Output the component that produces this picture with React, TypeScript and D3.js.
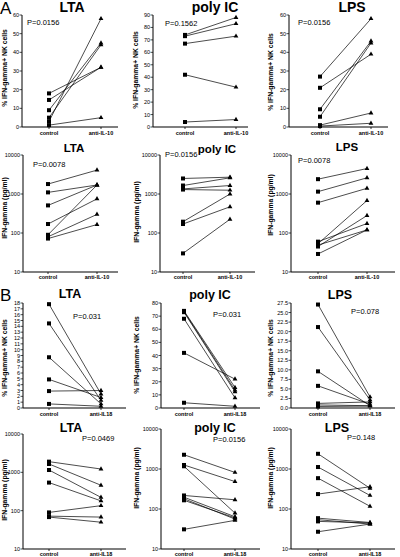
import React from "react";
import * as d3 from "d3";

// ---------- DATA ----------
// Row A1: % IFN-gamma+ NK cells, control vs anti-IL-10
const a1LtaControl = [18, 14.5, 9, 5, 3, 1];
const a1LtaAnti = [32, 32, 45, 44, 58, 5];
const a1PolyControl = [74, 73, 67, 42, 4];
const a1PolyAnti = [88, 83, 73, 32, 6];
const a1LpsControl = [27, 21, 9.5, 5.5, 1, 0.5];
const a1LpsAnti = [58, 39, 46, 45, 7.5, 2];
// Row A2: IFN-gamma pg/ml, control vs anti-IL-10
const a2LtaControl = [1800, 1100, 510, 170, 90, 80, 72];
const a2LtaAnti = [4100, 1700, 1700, 750, 1700, 300, 165];
const a2PolyControl = [2500, 1650, 1350, 1300, 195, 170, 30];
const a2PolyAnti = [2700, 2600, 1650, 1250, 1000, 470, 225];
const a2LpsControl = [2400, 1150, 600, 60, 53, 49, 45, 29];
const a2LpsAnti = [4500, 2600, 1400, 175, 680, 120, 280, 120];
// Row B1: % IFN-gamma+ NK cells, control vs anti-IL18
const b1LtaControl = [17.8, 14.5, 8.7, 4.9, 2.9, 0.7];
const b1LtaAnti = [2.4, 1.3, 0.7, 1.8, 3.0, 0.3];
const b1PolyControl = [74, 73.5, 73, 68, 42, 4];
const b1PolyAnti = [15.6, 13.6, 12.3, 7.7, 22, 1.3];
const b1LpsControl = [27.1, 21.2, 9.6, 5.8, 1.2, 0.8, 0.4];
const b1LpsAnti = [2.9, 2.1, 0.6, 1.0, 1.6, 0.6, 0.5];
// Row B2: IFN-gamma pg/ml, control vs anti-IL18
const b2LtaControl = [1900, 1650, 1150, 540, 90, 72, 68];
const b2LtaAnti = [1220, 460, 222, 180, 135, 68, 50];
const b2PolyControl = [2270, 1260, 1170, 218, 197, 180, 165, 31];
const b2PolyAnti = [820, 485, 79, 170, 64, 56, 60, 52];
const b2LpsControl = [2400, 1120, 590, 236, 59, 54, 49, 27];
const b2LpsAnti = [330, 218, 117, 360, 46, 42, 45, 42];

// ticks
const ticks60 = [0, 10, 20, 30, 40, 50, 60];
const ticks90 = [0, 10, 20, 30, 40, 50, 60, 70, 80, 90];
const ticks18 = d3.range(0, 19, 1);
const ticks80 = [0, 10, 20, 30, 40, 50, 60, 70, 80];
const ticks275 = [0, 2.5, 5, 7.5, 10, 12.5, 15, 17.5, 20, 22.5, 25, 27.5];
const ticksLog = [10, 100, 1000, 10000];

const titles = ["LTA", "poly IC", "LPS"];
const xLabelsA = ["control", "anti-IL-10"];
const xLabelsB = ["control", "anti-IL18"];
const pA1 = ["P=0.0156", "P=0.1562", "P=0.0156"];
const pA2 = ["P=0.0078", "P=0.0156", "P=0.0078"];
const pB1 = ["P=0.031", "P=0.031", "P=0.078"];
const pB2 = ["P=0.0469", "P=0.0156", "P=0.148"];
const yLabelPct = "% IFN-gamma+ NK cells";
const yLabelConc = "IFN-gamma (pg/ml)";

const FONT = "'Liberation Sans', Arial, sans-serif";

type PanelCfg = {
  axisX: number; ctrlX: number; antiX: number; endX: number;
  top: number; bottom: number;
  log: boolean; domain: [number, number]; ticks: number[]; fmt: (v: number) => string;
  control: number[]; anti: number[];
  title: string; titleX: number; titleY: number; titleSize: number;
  p: string; pX: number; pY: number;
  yLabel: string; yLabelX: number; yLabelY: number;
  xLabels: string[]; xLabelY: number;
};

function Panel({ c }: { c: PanelCfg }) {
  const y: any = c.log
    ? d3.scaleLog().domain(c.domain).range([c.bottom, c.top])
    : d3.scaleLinear().domain(c.domain).range([c.bottom, c.top]);
  const x = d3.scalePoint<string>().domain(["control", "anti"]).range([c.ctrlX, c.antiX]);
  const xc = x("control")!;
  const xa = x("anti")!;
  const tri = d3.symbol().type(d3.symbolTriangle).size(10)();
  return (
    <g>
      <text x={c.titleX} y={c.titleY} textAnchor="middle" fontFamily={FONT} fontWeight="bold" fontSize={c.titleSize}>{c.title}</text>
      {/* y axis */}
      <line x1={c.axisX} x2={c.axisX} y1={c.top} y2={c.bottom} stroke="#000" strokeWidth={1} />
      {c.ticks.map((t) => (
        <g key={t}>
          <line x1={c.axisX - 2.5} x2={c.axisX} y1={y(t)} y2={y(t)} stroke="#000" strokeWidth={0.7} />
          <text x={c.axisX - 3} y={y(t) + 2} textAnchor="end" fontFamily={FONT} fontSize={5.5}>{c.fmt(t)}</text>
        </g>
      ))}
      {/* x axis */}
      <line x1={c.axisX} x2={c.endX} y1={c.bottom} y2={c.bottom} stroke="#000" strokeWidth={1.2} />
      {[xc, xa].map((px, i) => (
        <g key={i}>
          <line x1={px} x2={px} y1={c.bottom} y2={c.bottom + 2} stroke="#000" strokeWidth={0.8} />
          <text x={px} y={c.xLabelY} textAnchor="middle" fontFamily={FONT} fontWeight="bold" fontSize={5.5}>{c.xLabels[i]}</text>
        </g>
      ))}
      {/* y label */}
      <text transform={`translate(${c.yLabelX},${c.yLabelY}) rotate(-90)`} textAnchor="middle" fontFamily={FONT} fontWeight="bold" fontSize={6.8}>{c.yLabel}</text>
      {/* P value */}
      <text x={c.pX} y={c.pY} fontFamily={FONT} fontSize={7.5}>{c.p}</text>
      {/* pairs */}
      {c.control.map((v, i) => (
        <line key={"l" + i} x1={xc} y1={y(v)} x2={xa} y2={y(c.anti[i])} stroke="#000" strokeWidth={0.7} />
      ))}
      {c.control.map((v, i) => (
        <rect key={"s" + i} x={xc - 2} y={y(v) - 2} width={4} height={4} fill="#000" />
      ))}
      {c.anti.map((v, i) => (
        <path key={"t" + i} d={tri!} transform={`translate(${xa},${y(v)})`} fill="#000" />
      ))}
    </g>
  );
}

const fmtInt = (v: number) => d3.format("d")(v);
const fmt1 = (v: number) => d3.format(".1f")(v);

export default function App() {
  const colA1 = [
    { axisX: 22, ctrlX: 49, antiX: 101, endX: 118 },
    { axisX: 153, ctrlX: 185, antiX: 236, endX: 248 },
    { axisX: 289, ctrlX: 320, antiX: 371, endX: 388 },
  ];
  const colA2 = [
    { axisX: 23, ctrlX: 48, antiX: 97, endX: 118 },
    { axisX: 160, ctrlX: 183, antiX: 230, endX: 255 },
    { axisX: 291, ctrlX: 318, antiX: 367, endX: 395 },
  ];
  const colB = [
    { axisX: 23, ctrlX: 49, antiX: 101, endX: 126 },
    { axisX: 161, ctrlX: 184, antiX: 235, endX: 260 },
    { axisX: 291, ctrlX: 318, antiX: 370, endX: 395 },
  ];

  const panels: PanelCfg[] = [];
  const a1Data = [[a1LtaControl, a1LtaAnti], [a1PolyControl, a1PolyAnti], [a1LpsControl, a1LpsAnti]];
  const a1Dom: [number, number][] = [[0, 60], [0, 90], [0, 60]];
  const a1Ticks = [ticks60, ticks90, ticks60];
  const a1Title = [[72, 11.5], [215, 12], [352, 11.5]];
  const a1P = [[27, 25], [165, 26], [298, 25]];
  const a1YL = [[7, 68], [138, 70], [273, 72]];
  for (let i = 0; i < 3; i++) {
    panels.push({
      ...colA1[i], top: 15, bottom: 127, log: false, domain: a1Dom[i], ticks: a1Ticks[i], fmt: fmtInt,
      control: a1Data[i][0], anti: a1Data[i][1], title: titles[i], titleX: a1Title[i][0], titleY: a1Title[i][1], titleSize: 14,
      p: pA1[i], pX: a1P[i][0], pY: a1P[i][1], yLabel: yLabelPct, yLabelX: a1YL[i][0], yLabelY: a1YL[i][1],
      xLabels: xLabelsA, xLabelY: 135,
    });
  }
  const a2Data = [[a2LtaControl, a2LtaAnti], [a2PolyControl, a2PolyAnti], [a2LpsControl, a2LpsAnti]];
  const a2Title = [[74, 152], [217, 153], [347, 151]];
  const a2P = [[33, 167], [165, 157], [298, 163]];
  const a2YL = [[7, 208], [139, 212], [273, 205]];
  for (let i = 0; i < 3; i++) {
    panels.push({
      ...colA2[i], top: 155, bottom: 272, log: true, domain: [10, 10000], ticks: ticksLog, fmt: fmtInt,
      control: a2Data[i][0], anti: a2Data[i][1], title: titles[i], titleX: a2Title[i][0], titleY: a2Title[i][1], titleSize: 11.5,
      p: pA2[i], pX: a2P[i][0], pY: a2P[i][1], yLabel: yLabelConc, yLabelX: a2YL[i][0], yLabelY: a2YL[i][1],
      xLabels: xLabelsA, xLabelY: 279,
    });
  }
  const b1Data = [[b1LtaControl, b1LtaAnti], [b1PolyControl, b1PolyAnti], [b1LpsControl, b1LpsAnti]];
  const b1Dom: [number, number][] = [[0, 18], [0, 80], [0, 27.5]];
  const b1Ticks = [ticks18, ticks80, ticks275];
  const b1Fmt = [fmtInt, fmtInt, fmt1];
  const b1Title = [[70, 298], [210, 299], [340, 299]];
  const b1P = [[73, 319], [213, 317], [351, 314]];
  const b1YL = [[7, 358], [139, 355], [273, 358]];
  for (let i = 0; i < 3; i++) {
    panels.push({
      ...colB[i], top: 303, bottom: 408, log: false, domain: b1Dom[i], ticks: b1Ticks[i], fmt: b1Fmt[i],
      control: b1Data[i][0], anti: b1Data[i][1], title: titles[i], titleX: b1Title[i][0], titleY: b1Title[i][1], titleSize: 12.5,
      p: pB1[i], pX: b1P[i][0], pY: b1P[i][1], yLabel: yLabelPct, yLabelX: b1YL[i][0], yLabelY: b1YL[i][1],
      xLabels: xLabelsB, xLabelY: 416,
    });
  }
  const b2Data = [[b2LtaControl, b2LtaAnti], [b2PolyControl, b2PolyAnti], [b2LpsControl, b2LpsAnti]];
  const b2Title = [[71, 432], [215, 432], [337, 432]];
  const b2P = [[82, 441], [213, 442], [347, 440]];
  const b2YL = [[7, 490], [139, 478], [273, 478]];
  const b2Top = [434, 429, 429];
  for (let i = 0; i < 3; i++) {
    panels.push({
      ...colB[i], top: b2Top[i], bottom: 549, log: true, domain: [10, 10000], ticks: ticksLog, fmt: fmtInt,
      control: b2Data[i][0], anti: b2Data[i][1], title: titles[i], titleX: b2Title[i][0], titleY: b2Title[i][1], titleSize: 12.5,
      p: pB2[i], pX: b2P[i][0], pY: b2P[i][1], yLabel: yLabelConc, yLabelX: b2YL[i][0], yLabelY: b2YL[i][1],
      xLabels: xLabelsB, xLabelY: 556,
    });
  }

  return (
    <svg width={400} height={557} style={{ position: "absolute", left: 0, top: 0, background: "#fff" }}>
      <rect width={400} height={557} fill="#fff" />
      <text x={0} y={14} fontFamily={FONT} fontSize={17}>A</text>
      <text x={0} y={301} fontFamily={FONT} fontSize={17}>B</text>
      {panels.map((c, i) => <Panel key={i} c={c} />)}
    </svg>
  );
}
